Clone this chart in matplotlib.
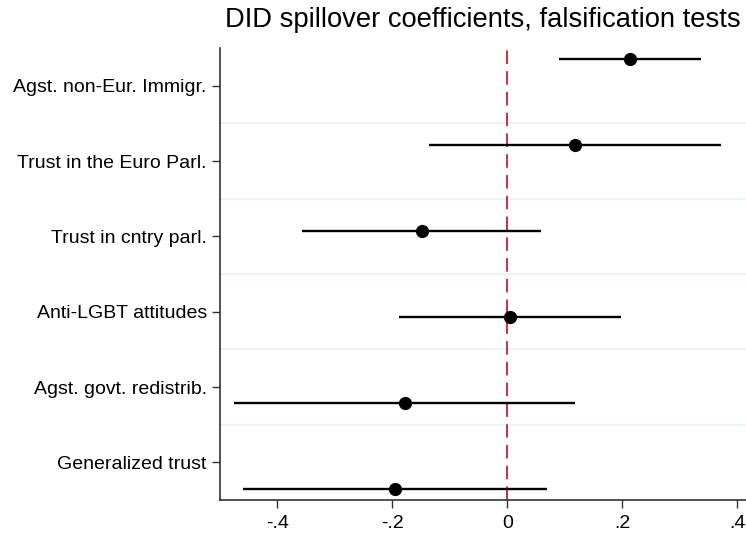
import numpy as np
import matplotlib
matplotlib.use("Agg")
import matplotlib.pyplot as plt

plt.rcParams['font.family'] = ['Liberation Sans', 'DejaVu Sans']

categories = ["Agst. non-Eur. Immigr.", "Trust in the Euro Parl.", "Trust in cntry parl.",
              "Anti-LGBT attitudes", "Agst. govt. redistrib.", "Generalized trust"]
coef = [0.214, 0.118, -0.149, 0.005, -0.178, -0.195]
ci_low = [0.091, -0.136, -0.357, -0.188, -0.476, -0.460]
ci_high = [0.337, 0.372, 0.059, 0.198, 0.118, 0.069]
xticks = [-0.4, -0.2, 0, 0.2, 0.4]
xticklabels = ["-.4", "-.2", "0", ".2", ".4"]
title = "DID spillover coefficients, falsification tests"

n = len(categories)
fig = plt.figure(figsize=(7.46, 5.38), dpi=100)
ax = fig.add_axes([220/746, 1-500/538, 1-220/746, 452/538])

pad = 0.146
ypts = np.linspace(pad, n - pad, n)
ylab = np.arange(n) + 0.5

for b in range(1, n):
    ax.axhline(b, color='#EAF2F3', lw=1.3, zorder=0)

ax.axvline(0, color='#C41E3A', lw=1.3, ls=(0, (7.5, 4)), zorder=1)

for i in range(n):
    ax.plot([ci_low[i], ci_high[i]], [ypts[i], ypts[i]], color='black', lw=1.7, zorder=2,
            solid_capstyle='butt')
ax.plot(coef, ypts, 'o', color='black', ms=8.5, zorder=3)

ax.set_ylim(n, 0)
ax.set_xlim(-0.5, 0.4157)
ax.set_yticks(ylab)
ax.set_yticklabels(categories, fontsize=14)
ax.set_xticks(xticks)
ax.set_xticklabels(xticklabels, fontsize=14)
ax.tick_params(axis='y', length=6, width=1, color='#333333', pad=3.5)
ax.tick_params(axis='x', length=5.5, width=1, color='#333333', pad=5)
for s in ['top', 'right']:
    ax.spines[s].set_visible(False)
for s in ['left', 'bottom']:
    ax.spines[s].set_color('#333333')
    ax.spines[s].set_linewidth(1.2)

fig.text(741/746, 1-26.7/538, title, ha='right', va='baseline', fontsize=19.7)

fig.savefig("out.png", dpi=100)
